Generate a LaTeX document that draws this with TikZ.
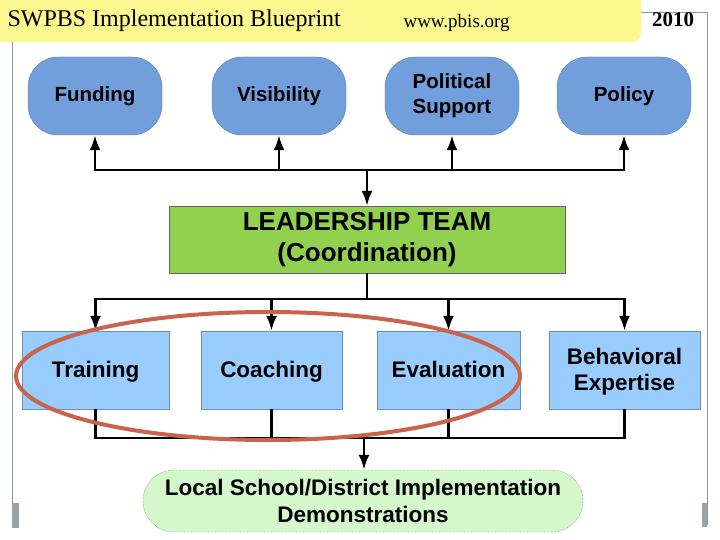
\documentclass[tikz,border=0pt]{standalone}
\usepackage{fontspec}
\setmainfont{Liberation Serif}
\setsansfont{Liberation Sans}
\usepackage{tikz}
\usetikzlibrary{arrows.meta, calc}
\tikzset{conn/.style={line width=2.6pt},
	tip/.style={-{Latex[length=15pt,width=11pt]}},
	topbox/.style={fill=col1, draw=col1!80!black, thin, rounded corners=30pt, minimum width=134pt, minimum height=78pt, inner sep=0pt, align=center, font=\sffamily\bfseries\fontsize{20.5}{25}\selectfont},
	midbox/.style={fill=col2, draw=col2!70!black, thin, minimum height=78pt, inner sep=0pt, text depth=0.22em, align=center, font=\sffamily\bfseries\fontsize{22.5}{26}\selectfont}}
\definecolor{col1}{HTML}{729FDB}
\definecolor{col2}{HTML}{99CCFF}
\definecolor{col3}{HTML}{92D050}
\definecolor{col4}{HTML}{D4F7CC}
\definecolor{banner}{HTML}{FAF88E}
\definecolor{frame}{HTML}{8C9A9E}
\definecolor{ring}{HTML}{C9634C}

\begin{document}
\begin{tikzpicture}[x=1pt, y=-1pt]
		\useasboundingbox[fill=white] (0,0) rectangle (720,540);
		\draw[frame, line width=1pt] (12,525) -- (12,13) -- (707,13) -- (707,525);
		\fill[frame!90!white] (12,503) rectangle (19,528);
		\fill[frame!90!white] (702,503) rectangle (707,527);
		\fill[banner, rounded corners=9pt] (-10,-10) rectangle (641,42);
		\node[anchor=west, font=\fontsize{24}{27}\selectfont] (title) at (4,21) {SWPBS Implementation Blueprint};
		\node[anchor=west, font=\fontsize{19}{22}\selectfont] (web) at (400,23) {www.pbis.org};
		\node[font=\bfseries\fontsize{21}{24}\selectfont] (year) at (673,20) {2010};
		
		\node[topbox] (fund) at (95,96) {Funding};
		\node[topbox] (vis) at (279,96) {Visibility};
		\node[topbox] (pol) at (452,96) {Political\\Support};
		\node[topbox] (policy) at (624,96) {Policy};
		
		\node[fill=col3, draw=black!60, thin, minimum width=396pt, minimum height=67pt, inner sep=0pt, align=center, font=\sffamily\bfseries\fontsize{26}{31}\selectfont] (lead) at (367,239.5) {LEADERSHIP TEAM\\(Coordination)};
		
		\node[midbox, minimum width=147pt] (train) at (95.5,370) {Training};
		\node[midbox, minimum width=141pt] (coach) at (271.5,370) {Coaching};
		\node[midbox, minimum width=143pt] (eval) at (448.5,370) {Evaluation};
		\node[midbox, minimum width=151pt] (expert) at (624.5,370) {Behavioral\\Expertise};
		
		\node[fill=col4, draw=black!70, densely dotted, thin, rounded corners=31pt, minimum width=440pt, minimum height=62pt, inner sep=0pt, align=center, font=\sffamily\bfseries\fontsize{22.5}{27}\selectfont] (local) at (363,501) {Local School/District Implementation\\Demonstrations};
		
		\coordinate (tophub) at (367,170);
		\coordinate (midhub) at (367,299);
		\coordinate (lowhub) at (364,438);
		\draw[conn, tip] (tophub) -| (fund);
		\draw[conn, tip] (tophub) -| (vis);
		\draw[conn, tip] (tophub) -| (pol);
		\draw[conn, tip] (tophub) -| (policy);
		\draw[conn, tip] (tophub) -- (lead);
		\draw[conn] (lead) -- (midhub);
		\draw[conn, tip] (midhub) -| (train);
		\draw[conn, tip] (midhub) -| (coach);
		\draw[conn, tip] (midhub) -| (eval);
		\draw[conn, tip] (midhub) -| (expert);
		\draw[conn] (train) |- (lowhub);
		\draw[conn] (coach) |- (lowhub);
		\draw[conn] (eval) |- (lowhub);
		\draw[conn] (expert) |- (lowhub);
		\draw[conn, tip] (lowhub) -- (lowhub |- local.north);
		
		\draw[ring, line width=4pt] (268,376) ellipse [x radius=252, y radius=64];
	\end{tikzpicture}
\end{document}
